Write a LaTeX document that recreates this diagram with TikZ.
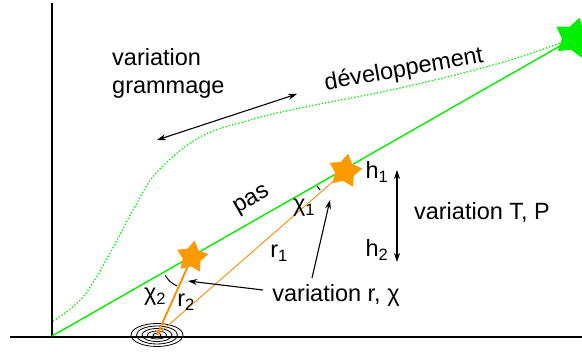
\documentclass[tikz,border=0pt]{standalone}
\usepackage{fontspec}
\setmainfont{Liberation Sans}
\usetikzlibrary{arrows.meta,shapes.geometric}
\definecolor{vert}{RGB}{0,240,0}
\definecolor{starorange}{RGB}{255,153,0}
\definecolor{lineorange}{RGB}{255,136,0}
\begin{document}
\begin{tikzpicture}[x=1pt,y=-1pt,
  lab/.style={font=\fontsize{23.5}{28}\selectfont, inner sep=0pt},
  arr/.style={-{Stealth[length=9pt,width=6pt]}, line width=1.1pt},
  dbl/.style={{Stealth[length=9pt,width=6pt]}-{Stealth[length=9pt,width=6pt]}, line width=1.1pt},
  axis/.style={line width=1.3pt},
  starshape/.style={star, star points=5, star point ratio=1.75, inner sep=0pt, draw=none},
  ring/.style={line width=0.8pt}]
\useasboundingbox (0,0) rectangle (582,352);
% axes
\coordinate (o) at (52,336);
\coordinate (ytop) at (52,3);
\coordinate (xl) at (10,337);
\coordinate (xr) at (582,337);
\draw[axis] (ytop) -- (52,337);
\draw[axis] (xl) -- (xr);
% target rings
\coordinate (t) at (157,335);
\foreach \rx/\ry in {26/11.5,20.5/9,15/6.5,9.5/4,4/1.8}
  \draw[ring] (t) ellipse[x radius=\rx, y radius=\ry];
% dotted curve
\draw[vert, dotted, line width=1.3pt] plot[smooth, tension=0.6] coordinates
  {(53,321) (83,297) (110,253) (133,210) (157,172) (200,137) (250,120) (300,108) (400,88) (500,63) (566,41)};
% stars (positions)
\coordinate (sgc) at (574,38);
\coordinate (s1c) at (345,171);
\coordinate (s2c) at (192,257);
% green line
\draw[vert, line width=1.4pt] (o) -- (sgc);
% orange lines
\draw[lineorange, line width=0.9pt] (t) -- (s1c);
\draw[lineorange, line width=1.8pt] (t) -- (s2c);
% stars
\node[starshape, fill=vert, minimum size=42pt, rotate=-15] (sg) at (sgc) {};
\node[starshape, fill=starorange, minimum size=35pt, rotate=-10] (s1) at (s1c) {};
\node[starshape, fill=starorange, minimum size=33pt, rotate=-8] (s2) at (s2c) {};
% angle arcs
\draw[line width=1pt] plot[domain=113.6:150.3, samples=20] ({187+25*cos(\x)},{263+25*sin(\x)});
\draw[line width=1pt] plot[domain=138:150, samples=10] ({338+24*cos(\x)},{174+24*sin(\x)});
% labels
\node[lab, align=left, anchor=north west] (vg) at (112,48) {variation\\grammage};
\node[lab, rotate=10] (dev) at (404,70) {développement};
\node[lab, rotate=30] (pas) at (252,201) {pas};
\node[lab] (chi1) at (304,208) {χ\textsubscript{1}};
\node[lab] (chi2) at (155,297) {χ\textsubscript{2}};
\node[lab] (r1) at (279,253) {r\textsubscript{1}};
\node[lab] (r2) at (186,302) {r\textsubscript{2}};
\node[lab] (h1) at (377,172) {h\textsubscript{1}};
\node[lab] (h2) at (377,250) {h\textsubscript{2}};
\node[lab] (vtp) at (482,212) {variation T, P};
\node[lab] (vr) at (336,295) {variation r, χ};
% arrows
\coordinate (ga) at (157,140);
\coordinate (gb) at (297,94);
\draw[dbl] (ga) -- (gb);
\coordinate (ha) at (397,170);
\coordinate (hb) at (397,262);
\draw[dbl] (ha) -- (hb);
\coordinate (vra) at (312,278);
\coordinate (vrb) at (330,200);
\draw[arr] (vra) -- (vrb);
\coordinate (vrc) at (263,290);
\coordinate (vrd) at (188,281);
\draw[arr] (vrc) -- (vrd);
\end{tikzpicture}
\end{document}
